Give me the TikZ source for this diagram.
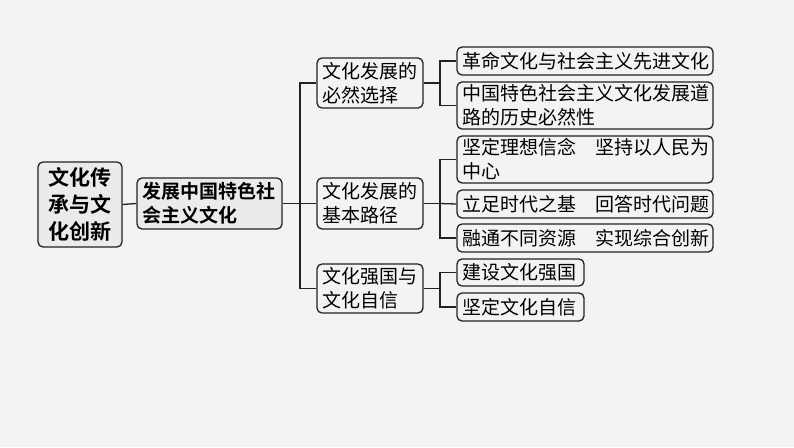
\documentclass[tikz,border=0pt]{standalone}
\usepackage{fontspec}
\newfontfamily\cjk{Noto Sans CJK SC}[BoldFont={Noto Sans CJK SC Bold}]
\definecolor{bgc}{HTML}{F3F3F3}
\definecolor{linec}{HTML}{222222}
\definecolor{boxfill}{HTML}{EBEBEB}
\begin{document}
\begin{tikzpicture}[x=1pt,y=-1pt,
  box/.style={draw=linec, line width=1.3pt, rounded corners=5pt, inner xsep=5pt, inner ysep=0pt,
     align=left, anchor=center, font=\cjk\fontsize{19}{24}\selectfont, text=black},
  keybox/.style={box, fill=boxfill, font=\cjk\bfseries\fontsize{19}{24}\selectfont},
  conn/.style={draw=linec, line width=1.3pt}]
\useasboundingbox[fill=bgc] (0,0) rectangle (794,447);
% nodes
\node[keybox, minimum width=84pt, minimum height=85pt, text width=64pt, font=\cjk\bfseries\fontsize{21}{27}\selectfont, align=center] (root) at (80,204.5) {文化传\\承与文\\化创新};
\node[keybox, minimum width=145pt, minimum height=51pt, text width=135pt] (k2) at (209.5,203.5) {发展中国特色社\\会主义文化};
\node[box, minimum width=106pt, minimum height=50pt, text width=96pt] (A) at (370,83) {文化发展的\\必然选择};
\node[box, minimum width=106pt, minimum height=51pt, text width=96pt] (B) at (370,203.5) {文化发展的\\基本路径};
\node[box, minimum width=106pt, minimum height=49pt, text width=96pt] (C) at (370,288.5) {文化强国与\\文化自信};
\node[box, minimum width=256pt, minimum height=28pt, text width=246pt] (A1) at (585,61) {革命文化与社会主义先进文化};
\node[box, minimum width=256pt, minimum height=47pt, text width=246pt] (A2) at (585,105.5) {中国特色社会主义文化发展道\\路的历史必然性};
\node[box, minimum width=256pt, minimum height=47pt, text width=246pt] (B1) at (585,159.5) {坚定理想信念　坚持以人民为\\中心};
\node[box, minimum width=256pt, minimum height=28pt, text width=246pt] (B2) at (585,204) {立足时代之基　回答时代问题};
\node[box, minimum width=256pt, minimum height=28pt, text width=246pt] (B3) at (585,238) {融通不同资源　实现综合创新};
\node[box, minimum width=127pt, minimum height=27pt, text width=117pt] (C1) at (520.5,272.5) {建设文化强国};
\node[box, minimum width=127pt, minimum height=28pt, text width=117pt] (C2) at (520.5,307) {坚定文化自信};
% junction points
\coordinate (tA) at (300,83);
\coordinate (tB) at (300,203.5);
\coordinate (tC) at (300,288.5);
\coordinate (jA) at (440,83);
\coordinate (jB) at (440,203.5);
\coordinate (jC) at (440,288.5);
% connectors
\draw[conn] (root.east) -- (k2.west);
\draw[conn] (k2.east) -- (tB);
\draw[conn] (A.west) -- (tA) -- (tC) -- (C.west);
\draw[conn] (tB) -- (B.west);
\draw[conn] (A.east) -- (jA);
\draw[conn] (A1.west) -| (jA) |- (A2.west);
\draw[conn] (B.east) -- (jB);
\draw[conn] (B1.west) -| (jB) |- (B3.west);
\draw[conn] (jB) -- (B2.west);
\draw[conn] (C.east) -- (jC);
\draw[conn] (C1.west) -| (jC) |- (C2.west);
\end{tikzpicture}
\end{document}
